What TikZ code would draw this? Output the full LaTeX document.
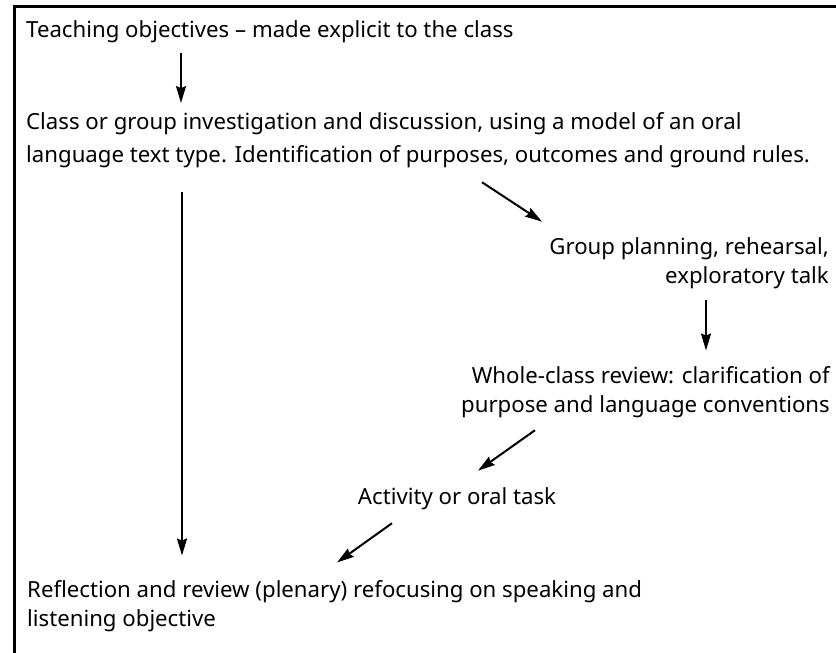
\documentclass[tikz,border=0pt]{standalone}
\usepackage{fontspec}
\setmainfont{Noto Sans}
\usetikzlibrary{arrows.meta}
\tikzset{
  txt/.style={inner sep=0pt, font=\fontsize{22.2}{29}\selectfont},
  arr/.style={line width=2pt, -{Stealth[length=17pt,width=10pt,inset=2pt]}},
  frame/.style={line width=3.5pt}
}
\begin{document}
\begin{tikzpicture}[x=1pt,y=-1pt]
\useasboundingbox (0,0) rectangle (836,653);
% frame
\draw[frame] (14.5,653) -- (14.5,6.5) -- (836,6.5);
% texts (multi-line nodes: base anchor is the last line)
\node[txt, anchor=base west] (t1) at (26,37) {Teaching objectives -- made explicit to the class};
\node[txt, anchor=base west, align=left, font=\fontsize{22.2}{32.5}\selectfont] (t2) at (26,162)
  {Class or group investigation and discussion, using a model of an oral\\language text type. Identification of purposes, outcomes and ground rules.};
\node[txt, anchor=base east, align=right] (t3) at (829,283) {Group planning, rehearsal,\\exploratory talk};
\node[txt, anchor=base east, align=right] (t4) at (830,412) {Whole-class review: clarification of\\purpose and language conventions};
\node[txt, anchor=base] (t5) at (457,504) {Activity or oral task};
\node[txt, anchor=base west, align=left] (t6) at (27,626) {Reflection and review (plenary) refocusing on speaking and\\listening objective};
% connectors
\draw[arr] ([shift={(155,10.7)}]t1.south west) -- ([shift={(155,-9.3)}]t2.north west);
\draw[arr] ([shift={(156,24.7)}]t2.south west) -- ([shift={(155,-24.3)}]t6.north west);
\draw[arr] ([shift={(456,14.7)}]t2.south west) -- ([shift={(-287,-15.3)}]t3.north east);
\draw[arr] ([shift={(-123,11.7)}]t3.south east) -- ([shift={(-124,-15.3)}]t4.north east);
\draw[arr] ([shift={(-295,12.7)}]t4.south east) -- ([shift={(21,-16.3)}]t5.north);
\draw[arr] ([shift={(-65,13.7)}]t5.south) -- ([shift={(310,-17.3)}]t6.north west);
\end{tikzpicture}
\end{document}
